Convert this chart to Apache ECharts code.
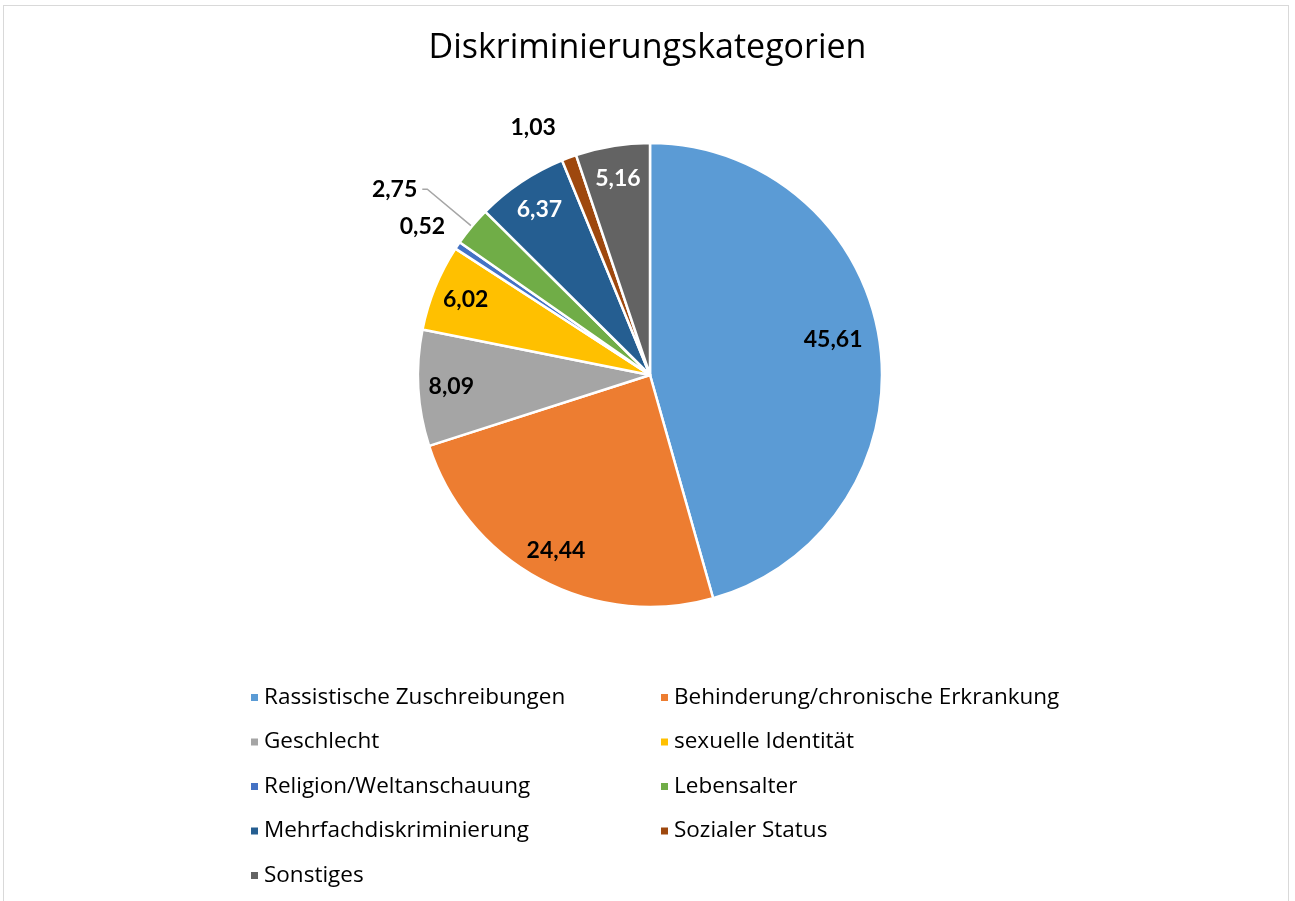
<!DOCTYPE html>
<html>
<head>
<meta charset="utf-8">
<script src="https://cdn.jsdelivr.net/npm/echarts@6/dist/echarts.min.js"></script>
<style>
	html, body { margin: 0; padding: 0; background: #ffffff; }
	#frame {
		position: absolute;
		left: 3px;
		top: 5px;
		width: 1286px;
		height: 920px;
		border: 1px solid #d9d9d9;
		box-sizing: border-box;
	}
	#chart { position: absolute; left: 0; top: 0; width: 1295px; height: 901px; }
</style>
</head>
<body>
<div id="frame"></div>
<div id="chart"></div>
<script>
// Categories in clockwise order, starting at 12 o'clock
const categories = [
	'Rassistische Zuschreibungen',
	'Behinderung/chronische Erkrankung',
	'Geschlecht',
	'sexuelle Identität',
	'Religion/Weltanschauung',
	'Lebensalter',
	'Mehrfachdiskriminierung',
	'Sozialer Status',
	'Sonstiges'
];
const shares = [45.61, 24.44, 8.09, 6.02, 0.52, 2.75, 6.37, 1.03, 5.16];
const sliceColors = ['#5B9BD5', '#ED7D31', '#A5A5A5', '#FFC000', '#4472C4', '#70AD47', '#255E91', '#9E480E', '#636363'];

// Small slices get their value outside the pie
const outsideLabels = ['Religion/Weltanschauung', 'Lebensalter', 'Sozialer Status'];
// White label text on the dark slices
const whiteLabels = ['Mehrfachdiskriminierung', 'Sonstiges'];

const fmt = v => v.toFixed(2).replace('.', ',');

const chart = echarts.init(document.getElementById('chart'));

const center = [650, 375];
const radius = 232;
const labelFont = { fontFamily: 'Lato', fontWeight: 'bold', fontSize: 23 };
const legendText = { fontFamily: 'Open Sans', fontSize: 22.5, color: '#000000' };

// Per-slice tweaks for the outer labels (line length, turn, gap)
const outerTweaks = {
	'Religion/Weltanschauung': { length: 33, length2: 0, distance: -15, line: false },
	'Lebensalter': { length: 58, length2: 5, distance: 5, line: true },
	'Sozialer Status': { length: 32, length2: 0, distance: 2, line: false }
};

const mainData = categories.map((name, i) => {
	const item = {
		name: name,
		value: shares[i],
		itemStyle: { color: sliceColors[i] }
	};
	if (outsideLabels.includes(name)) {
		const t = outerTweaks[name];
		item.label = { show: true, position: 'outside', distanceToLabelLine: t.distance };
		item.labelLine = { show: t.line, length: t.length, length2: t.length2 };
	} else {
		item.label = { show: false };
		item.labelLine = { show: false };
	}
	return item;
});

// Transparent ring that carries the inside labels further out than the pie's midpoint
const labelRingData = categories.map((name, i) => ({
	name: name,
	value: shares[i],
	label: {
		show: !outsideLabels.includes(name),
		color: whiteLabels.includes(name) ? '#ffffff' : '#000000'
	}
}));

const legendBase = {
	orient: 'vertical',
	top: 686,
	padding: 0,
	itemWidth: 9,
	itemHeight: 9,
	itemGap: 21.5,
	icon: 'rect',
	textStyle: legendText
};

const option = {
	animation: false,
	color: sliceColors,
	title: {
		text: 'Diskriminierungskategorien',
		left: 'center',
		top: 26,
		textStyle: {
			fontFamily: 'Open Sans',
			fontWeight: 'normal',
			fontSize: 34,
			color: '#000000'
		}
	},
	legend: [
		{ ...legendBase, left: 249, data: categories.filter((_, i) => i % 2 === 0) },
		{ ...legendBase, left: 659, data: categories.filter((_, i) => i % 2 === 1) }
	],
	series: [
		{
			type: 'pie',
			center: center,
			radius: radius,
			startAngle: 90,
			clockwise: true,
			avoidLabelOverlap: false,
			silent: true,
			itemStyle: { borderColor: '#ffffff', borderWidth: 2.5 },
			label: {
				formatter: p => fmt(p.value),
				color: '#000000',
				...labelFont
			},
			labelLine: { lineStyle: { color: '#a6a6a6', width: 1.5 } },
			data: mainData
		},
		{
			type: 'pie',
			center: center,
			radius: [160, radius],
			startAngle: 90,
			clockwise: true,
			avoidLabelOverlap: false,
			silent: true,
			itemStyle: { color: 'rgba(0,0,0,0)' },
			label: {
				position: 'inside',
				formatter: p => fmt(p.value),
				...labelFont
			},
			labelLine: { show: false },
			// the big slice's label sits a bit closer to the centre
			labelLayout: p => (p.dataIndex === 0 ? { dx: -14, dy: -8 } : {}),
			data: labelRingData
		}
	]
};

chart.setOption(option);
</script>
</body>
</html>
